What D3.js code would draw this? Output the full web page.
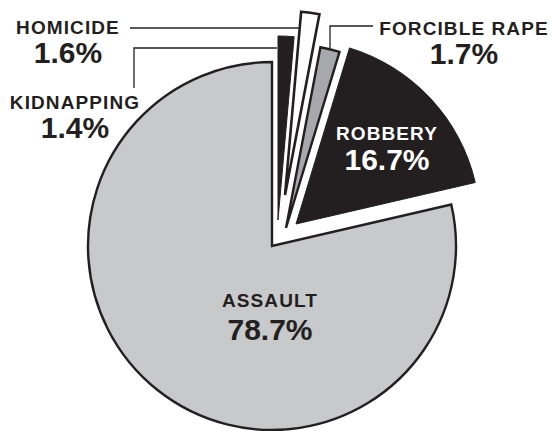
<!DOCTYPE html>
<html>
<head>
<meta charset="utf-8">
<script src="https://cdn.jsdelivr.net/npm/d3@7/dist/d3.min.js"></script>
<style>
  html, body { margin: 0; padding: 0; background: #fff; }
  svg { display: block; }
  text { font-family: "Liberation Sans", Arial, Helvetica, sans-serif; font-weight: bold; }
</style>
</head>
<body>
<svg id="chart" width="554" height="431"></svg>
<script>
// ---- data ----
const categories = ["KIDNAPPING", "HOMICIDE", "FORCIBLE RAPE", "ROBBERY", "ASSAULT"];
const values = [1.4, 1.6, 1.7, 16.7, 78.7];
const valueLabels = ["1.4%", "1.6%", "1.7%", "16.7%", "78.7%"];

// ---- styling / layout ----
const W = 554, H = 431;
const cx = 272, cy = 246, R = 184;
const ink = "#231f20";
const style = {
  "KIDNAPPING":    { fill: ink,       stroke: ink,  sw: 1,   dx: 6,  dy: -26 },
  "HOMICIDE":      { fill: "#ffffff", stroke: ink,  sw: 2.6, dx: 13, dy: -51 },
  "FORCIBLE RAPE": { fill: "#a6a8ab", stroke: ink,  sw: 2.4, dx: 14, dy: -18 },
  "ROBBERY":       { fill: ink,       stroke: ink,  sw: 1,   dx: 24, dy: -22 },
  "ASSAULT":       { fill: "#c8c9cb", stroke: ink,  sw: 2.4, dx: 0,  dy: 0 }
};
const labelPos = {
  "KIDNAPPING":    { x: 75,  y1: 109, y2: 138, color: ink },
  "HOMICIDE":      { x: 68,  y1: 34,  y2: 63,  color: ink },
  "FORCIBLE RAPE": { x: 464, y1: 35,  y2: 64,  color: ink },
  "ROBBERY":       { x: 387, y1: 140, y2: 170, color: "#ffffff" },
  "ASSAULT":       { x: 270, y1: 307, y2: 340, color: ink }
};

const svg = d3.select("#chart");

const pie = d3.pie().sort(null).value(d => d.value);
const arcs = pie(categories.map((c, i) => ({ name: c, value: values[i], label: valueLabels[i] })));
const arc = d3.arc().innerRadius(0).outerRadius(R);

// draw slices, largest (assault) first
const drawOrder = arcs.slice().sort((a, b) => b.data.value - a.data.value);
svg.append("g")
  .selectAll("path")
  .data(drawOrder)
  .join("path")
  .attr("transform", d => `translate(${cx + style[d.data.name].dx},${cy + style[d.data.name].dy})`)
  .attr("d", arc)
  .attr("fill", d => style[d.data.name].fill)
  .attr("stroke", d => style[d.data.name].stroke)
  .attr("stroke-width", d => style[d.data.name].sw)
  .attr("stroke-linejoin", "miter");

// helpers for leader lines
const byName = {};
arcs.forEach(a => byName[a.data.name] = a);
function sliceCenter(name) { const s = style[name]; return [cx + s.dx, cy + s.dy]; }
function startEdgeXAtY(name, y) {
  const a = byName[name].startAngle; const [sx, sy] = sliceCenter(name);
  return sx + (sy - y) * Math.tan(a);
}
function arcYAtX(name, x) {
  const [sx, sy] = sliceCenter(name);
  return sy - Math.sqrt(R * R - (x - sx) * (x - sx));
}

const leaders = svg.append("g").attr("fill", "none").attr("stroke", ink).attr("stroke-width", 1.3);
// homicide
leaders.append("path").attr("d", d3.line()([[130, 28], [startEdgeXAtY("HOMICIDE", 28) - 1, 28]]));
// kidnapping
leaders.append("path").attr("d", d3.line()([[134, 88], [134, 48], [startEdgeXAtY("KIDNAPPING", 48) - 1, 48]]));
// forcible rape
leaders.append("path").attr("d", d3.line()([[373, 26], [330, 26], [330, arcYAtX("FORCIBLE RAPE", 330) - 1]]));

// labels: one text element per slice, two stacked lines
const lg = svg.append("g").attr("text-anchor", "middle");
arcs.forEach(a => {
  const p = labelPos[a.data.name];
  const t = lg.append("text").attr("fill", p.color);
  t.append("tspan")
    .attr("x", p.x).attr("y", p.y1)
    .attr("font-size", 19).attr("letter-spacing", 1.1)
    .text(a.data.name);
  t.append("tspan")
    .attr("x", p.x).attr("y", p.y2)
    .attr("font-size", 30).attr("letter-spacing", 0)
    .text(a.data.label);
});
</script>
</body>
</html>
